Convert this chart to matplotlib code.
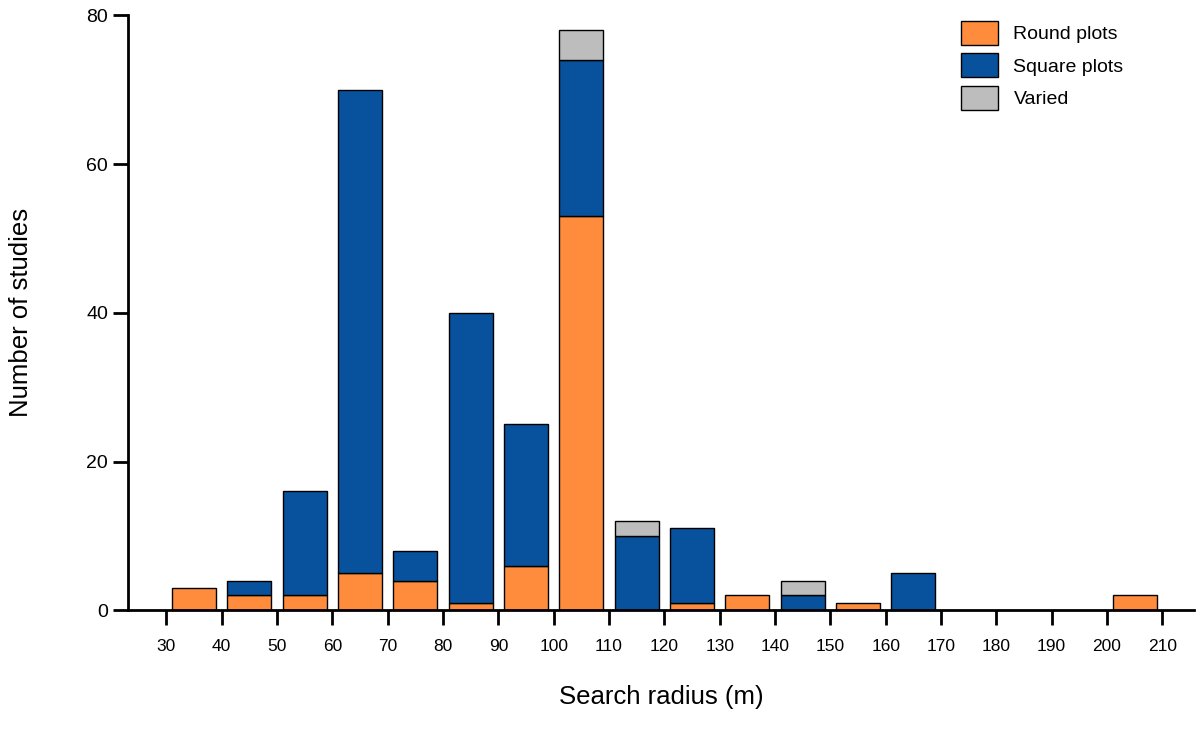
import numpy as np
import matplotlib.pyplot as plt

plt.rcParams['font.family'] = ['Liberation Sans', 'DejaVu Sans']

bin_left = np.arange(30, 210, 10)
round_plots = [3, 2, 2, 5, 4, 1, 6, 53, 0, 1, 2, 0, 1, 0, 0, 0, 0, 2]
square_plots = [0, 2, 14, 65, 4, 39, 19, 21, 10, 10, 0, 2, 0, 5, 0, 0, 0, 0]
varied = [0, 0, 0, 0, 0, 0, 0, 4, 2, 0, 0, 2, 0, 0, 0, 0, 0, 0]

round_plots = np.array(round_plots)
square_plots = np.array(square_plots)
varied = np.array(varied)
centers = bin_left + 5

fig = plt.figure(figsize=(11.98, 7.30), dpi=100)
ax = fig.add_axes([0.107, 0.164, 0.89, 0.815])

kw = dict(width=8, edgecolor='black', linewidth=1)
m = round_plots > 0
ax.bar(centers[m], round_plots[m], color='#FF8C3C', label='Round plots', **kw)
m = square_plots > 0
ax.bar(centers[m], square_plots[m], bottom=round_plots[m], color='#08519C', label='Square plots', **kw)
m = varied > 0
ax.bar(centers[m], varied[m], bottom=(round_plots + square_plots)[m], color='#BDBDBD', label='Varied', **kw)

ax.set_xlim(23.1, 215.8)
ax.set_ylim(0, 80)
ax.set_xticks(np.arange(30, 211, 10))
ax.set_yticks([0, 20, 40, 60, 80])
for s in ['top', 'right']:
    ax.spines[s].set_visible(False)
for s in ['left', 'bottom']:
    ax.spines[s].set_linewidth(2)
ax.tick_params(axis='both', width=2, length=11, labelsize=12.5)
ax.tick_params(axis='x', pad=10)
ax.tick_params(axis='y', labelsize=14)
ax.set_xlabel('Search radius (m)', fontsize=18.5, labelpad=22)
ax.set_ylabel('Number of studies', fontsize=18.5, labelpad=38)

ax.legend(loc='upper right', frameon=False, fontsize=14, handlelength=1.9, handleheight=1.5,
          labelspacing=0.45, bbox_to_anchor=(0.95, 1.02))

fig.savefig('out.png', dpi=100)
